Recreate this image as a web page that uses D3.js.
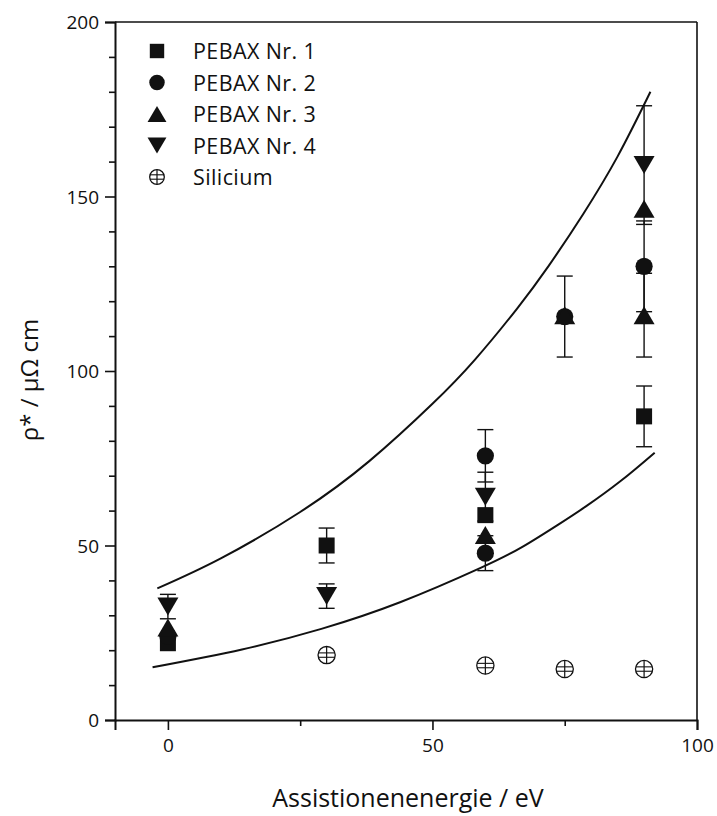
<!DOCTYPE html>
<html>
<head>
<meta charset="utf-8">
<script src="https://cdn.jsdelivr.net/npm/d3@7"></script>
<style>
  html, body { margin: 0; padding: 0; background: #fff; }
  svg { display: block; }
  text { font-family: "Open Sans", "Noto Sans", sans-serif; fill: #111; }
</style>
</head>
<body>
<svg id="chart" width="717" height="816"></svg>
<script>
// Assist ion energy (eV) and specific resistivity (µΩ cm) per sample
const seriesNames = ["PEBAX Nr. 1", "PEBAX Nr. 2", "PEBAX Nr. 3", "PEBAX Nr. 4", "Silicium"];

const pebax1X = [0, 30, 60, 90];
const pebax1Y = [22, 50, 58.7, 87];
const pebax1Err = [0, 5, 0, 8.7];

const pebax2X = [0, 60, 60, 75, 90];
const pebax2Y = [24, 75.7, 47.8, 115.6, 130];
const pebax2Err = [0, 7.5, 5, 11.6, 13];

const pebax3X = [0, 60, 75, 90, 90];
const pebax3Y = [26.5, 53, 116, 146.5, 116];
const pebax3Err = [0, 0, 0, 0, 12];

const pebax4X = [0, 30, 60, 90];
const pebax4Y = [32.5, 35.5, 64, 159];
const pebax4Err = [3.5, 3.5, 7, 17];

const siliciumX = [30, 60, 75, 90];
const siliciumY = [18.6, 15.6, 14.6, 14.6];

// Upper and lower bounding curves
const upperCurveX = [-2, 10, 25, 38, 50, 58, 66, 72, 78.5, 85, 91.2];
const upperCurveY = [37.7, 46.3, 59.6, 74.1, 90.6, 103.2, 117.9, 130.2, 145, 161.5, 180];
const lowerCurveX = [-2.9, 14, 29, 44, 59, 67, 74, 79, 85.5, 92];
const lowerCurveY = [15.1, 20.2, 26.1, 33.8, 43.5, 49.6, 56.2, 61.2, 68.4, 76.6];

const xTicks = [0, 50, 100];
const xMinorTicks = [25, 75];
const yTicks = [0, 50, 100, 150, 200];
const yMinorTicks = d3.range(10, 200, 10).filter(v => v % 50 !== 0);

const svg = d3.select("#chart");
const L = 115, R = 697, T = 22, B = 720;

const x = d3.scaleLinear().domain([-10, 100]).range([L, R]);
const y = d3.scaleLinear().domain([0, 200]).range([B, T]);

const ink = "#111";

// Frame (top and right)
svg.append("line").attr("x1", L).attr("x2", R).attr("y1", T).attr("y2", T)
  .attr("stroke", ink).attr("stroke-width", 1.6);
svg.append("line").attr("x1", R).attr("x2", R).attr("y1", T).attr("y2", B)
  .attr("stroke", ink).attr("stroke-width", 1.6);

// Bottom axis
const xAxis = svg.append("g").attr("transform", `translate(0,${B})`)
  .call(d3.axisBottom(x).tickValues(xTicks).tickSize(10).tickPadding(9).tickFormat(d3.format("d")));
const xMinor = svg.append("g").attr("transform", `translate(0,${B})`)
  .call(d3.axisBottom(x).tickValues(xMinorTicks).tickSize(6).tickFormat(""));

// Left axis
const yAxis = svg.append("g").attr("transform", `translate(${L},0)`)
  .call(d3.axisLeft(y).tickValues(yTicks).tickSize(10).tickPadding(6).tickFormat(d3.format("d")));
const yMinor = svg.append("g").attr("transform", `translate(${L},0)`)
  .call(d3.axisLeft(y).tickValues(yMinorTicks).tickSize(6).tickFormat(""));

[xAxis, xMinor, yAxis, yMinor].forEach(g => {
  g.select(".domain").attr("stroke", ink).attr("stroke-width", 2);
  g.selectAll(".tick line").attr("stroke", ink).attr("stroke-width", 1.6);
  g.selectAll(".tick text").style("font-family", "'Open Sans', sans-serif")
    .style("font-size", "19px").attr("fill", ink);
});
xMinor.select(".domain").remove();
yMinor.select(".domain").remove();
yAxis.selectAll(".tick text").attr("dy", "0.36em");

// Axis titles
svg.append("text").attr("x", 408).attr("y", 807)
  .attr("text-anchor", "middle").style("font-size", "25px")
  .text("Assistionenenergie / eV");
svg.append("text")
  .attr("transform", `translate(38,${(T + B) / 2 + 9}) rotate(-90)`)
  .attr("text-anchor", "middle").style("font-size", "24px")
  .text("ρ* / µΩ cm");

// Curves
const line = d3.line().x(d => x(d[0])).y(d => y(d[1])).curve(d3.curveNatural);
svg.append("path").datum(d3.zip(upperCurveX, upperCurveY)).attr("d", line)
  .attr("fill", "none").attr("stroke", ink).attr("stroke-width", 2);
svg.append("path").datum(d3.zip(lowerCurveX, lowerCurveY)).attr("d", line)
  .attr("fill", "none").attr("stroke", ink).attr("stroke-width", 2);

// Marker shapes
function drawMarker(g, shape, cx, cy, scale = 1) {
  if (shape === "square") {
    const s = 16 * scale;
    g.append("rect").attr("x", cx - s / 2).attr("y", cy - s / 2).attr("width", s).attr("height", s).attr("fill", ink);
  } else if (shape === "circle") {
    g.append("circle").attr("cx", cx).attr("cy", cy).attr("r", 8.6 * scale).attr("fill", ink);
  } else if (shape === "up") {
    const w = 21 * scale, h = 18 * scale;
    g.append("path").attr("d", `M${cx - w / 2},${cy + h / 2}L${cx + w / 2},${cy + h / 2}L${cx},${cy - h / 2}Z`).attr("fill", ink);
  } else if (shape === "down") {
    const w = 21 * scale, h = 18 * scale;
    g.append("path").attr("d", `M${cx - w / 2},${cy - h / 2}L${cx + w / 2},${cy - h / 2}L${cx},${cy + h / 2}Z`).attr("fill", ink);
  } else if (shape === "globe") {
    const r = 8.6 * scale;
    g.append("circle").attr("cx", cx).attr("cy", cy).attr("r", r)
      .attr("fill", "#fff").attr("stroke", ink).attr("stroke-width", 1.3);
    g.append("line").attr("x1", cx).attr("x2", cx).attr("y1", cy - r).attr("y2", cy + r)
      .attr("stroke", ink).attr("stroke-width", 1.2);
    [-2.2, 2.2].forEach(o => {
      const hw = Math.sqrt(r * r - o * o);
      g.append("line").attr("x1", cx - hw).attr("x2", cx + hw).attr("y1", cy + o).attr("y2", cy + o)
        .attr("stroke", ink).attr("stroke-width", 1.1);
    });
  }
}

// Error bars
function drawErr(g, xv, yv, e) {
  if (!e) return;
  const cx = x(xv), y1 = y(yv + e), y2 = y(yv - e), cw = 8;
  g.append("line").attr("x1", cx).attr("x2", cx).attr("y1", y1).attr("y2", y2)
    .attr("stroke", ink).attr("stroke-width", 1.4);
  [y1, y2].forEach(yy => g.append("line").attr("x1", cx - cw).attr("x2", cx + cw)
    .attr("y1", yy).attr("y2", yy).attr("stroke", ink).attr("stroke-width", 1.4));
}

const series = [
  { name: seriesNames[0], shape: "square", xs: pebax1X, ys: pebax1Y, es: pebax1Err },
  { name: seriesNames[1], shape: "circle", xs: pebax2X, ys: pebax2Y, es: pebax2Err },
  { name: seriesNames[2], shape: "up", xs: pebax3X, ys: pebax3Y, es: pebax3Err },
  { name: seriesNames[3], shape: "down", xs: pebax4X, ys: pebax4Y, es: pebax4Err },
  { name: seriesNames[4], shape: "globe", xs: siliciumX, ys: siliciumY, es: siliciumX.map(() => 0) }
];

const errLayer = svg.append("g");
const markLayer = svg.append("g");
series.forEach(s => {
  s.xs.forEach((xv, i) => {
    drawErr(errLayer, xv, s.ys[i], s.es[i]);
    drawMarker(markLayer, s.shape, x(xv), y(s.ys[i]));
  });
});

// Legend
const legend = svg.append("g");
series.forEach((s, i) => {
  const ly = 51 + i * 31.5;
  drawMarker(legend, s.shape, 157, ly, s.shape === "globe" ? 0.85 : 0.9);
  legend.append("text").attr("x", 193).attr("y", ly + 8)
    .style("font-size", "21.5px").style("letter-spacing", "0.4px").text(s.name);
});
</script>
</body>
</html>
